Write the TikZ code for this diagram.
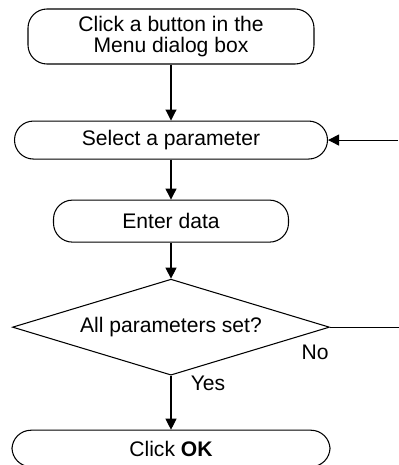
\documentclass[tikz,border=0pt]{standalone}
\usepackage{fontspec}
\setmainfont{Liberation Sans}
\usetikzlibrary{positioning, arrows.meta, shapes.geometric}

\begin{document}
\begin{tikzpicture}[font=\fontsize{12}{12.4}\selectfont, line width=0.6pt,
    stepbox/.style={draw, rounded corners=0.38cm, align=center, inner sep=0pt},
    flow/.style={-{Triangle[length=2.2mm, width=2.2mm]}}]
    \useasboundingbox (0,0) rectangle (7.96,-9.3);
    \node[stepbox, minimum width=5.72cm, minimum height=1.1cm] (menu) at (3.42,-0.73)
      {Click a button in the\\Menu dialog box};
    \node[stepbox, minimum width=6.26cm, minimum height=0.76cm, below=1.12cm of menu] (sel)
      {Select a parameter};
    \node[stepbox, minimum width=4.7cm, minimum height=0.84cm, below=0.8cm of sel] (enter)
      {Enter data};
    \node[draw, diamond, aspect=3.3, minimum width=6.34cm, minimum height=1.92cm, inner sep=0pt,
          below=0.72cm of enter] (dec) {All parameters set?};
    \node[stepbox, minimum width=6.36cm, minimum height=0.73cm, below=1.08cm of dec] (ok)
      {Click \textbf{OK}};
    \node (no) at (6.3,-7.04) {No};
    \node (yes) at (4.16,-7.66) {Yes};
    \coordinate[right=1.4cm of sel.east] (ret);
    \coordinate[right=1.4cm of dec.east] (noend);
    \foreach \a/\b in {menu/sel, sel/enter, enter/dec, dec/ok}
      \draw[flow] (\a) -- (\b);
    \draw (dec.east) -- (noend);
    \draw[flow] (ret) -- (sel);
  \end{tikzpicture}
\end{document}
